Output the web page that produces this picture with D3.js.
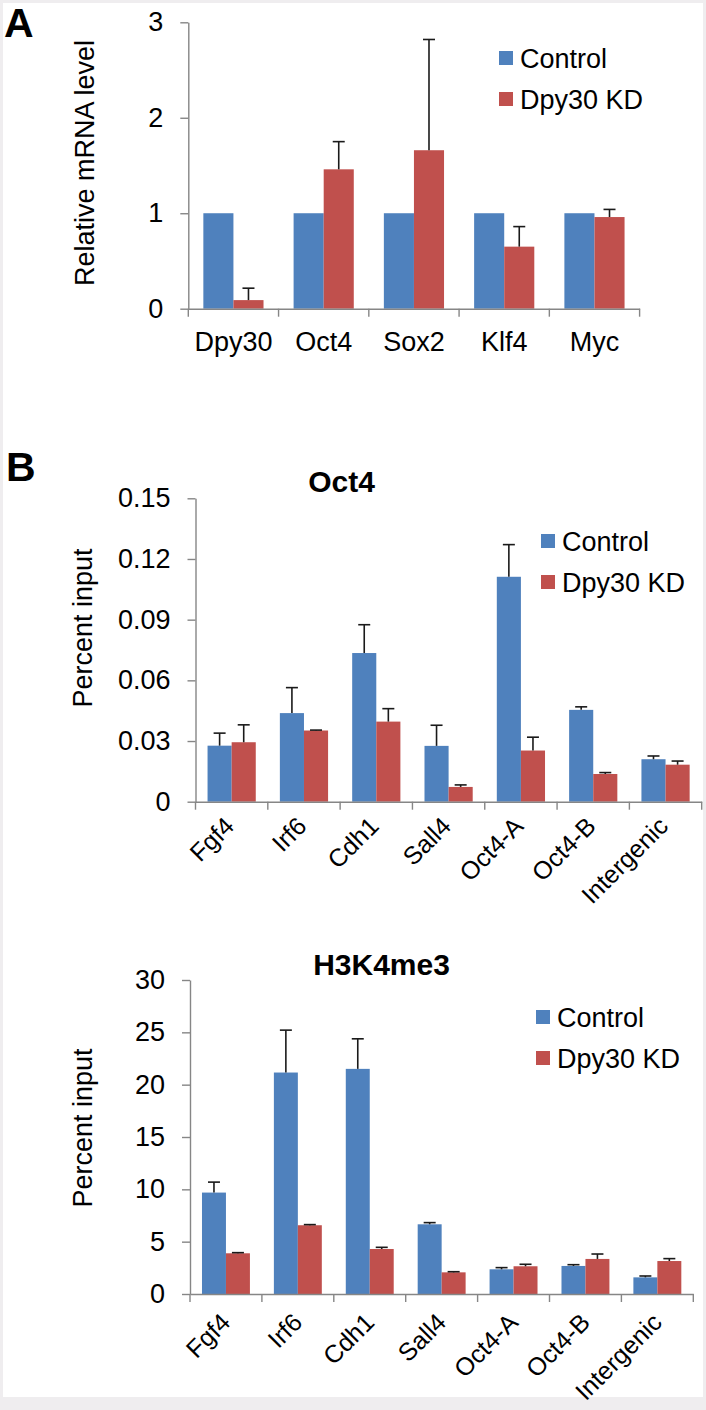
<!DOCTYPE html>
<html><head><meta charset="utf-8">
<script src="https://cdn.jsdelivr.net/npm/d3@7"></script>
<style>
body{margin:0;background:#fff;}
svg{display:block;}
text{font-family:"Liberation Sans",Arial,Helvetica,sans-serif;}
</style>
</head><body>
<svg id="chart" width="706" height="1410"></svg>
<script>
// ---------- data ----------
const seriesNames = ["Control", "Dpy30 KD"];
const seriesColors = ["#4F81BD", "#C0504D"];

// Panel A: relative mRNA level
const aCategories = ["Dpy30", "Oct4", "Sox2", "Klf4", "Myc"];
const aControl = [1, 1, 1, 1, 1];
const aControlErr = [0, 0, 0, 0, 0];
const aKD = [0.09, 1.46, 1.66, 0.65, 0.96];
const aKDErr = [0.125, 0.29, 1.16, 0.21, 0.08];
const aTicks = [0, 1, 2, 3];
const aTickLabels = ["0", "1", "2", "3"];

// Panel B: Oct4 ChIP
const bCategories = ["Fgf4", "Irf6", "Cdh1", "Sall4", "Oct4-A", "Oct4-B", "Intergenic"];
const bControl = [0.0277, 0.0438, 0.0735, 0.0276, 0.1112, 0.0454, 0.0210];
const bControlErr = [0.0062, 0.0126, 0.0140, 0.0102, 0.0159, 0.0015, 0.0016];
const bKD = [0.0294, 0.0352, 0.0396, 0.0073, 0.0253, 0.0137, 0.0183];
const bKDErr = [0.0086, 0.0002, 0.0064, 0.0010, 0.0066, 0.0007, 0.0018];
const bTicks = [0, 0.03, 0.06, 0.09, 0.12, 0.15];
const bTickLabels = ["0", "0.03", "0.06", "0.09", "0.12", "0.15"];

// Panel C: H3K4me3 ChIP
const cCategories = ["Fgf4", "Irf6", "Cdh1", "Sall4", "Oct4-A", "Oct4-B", "Intergenic"];
const cControl = [9.69, 21.16, 21.51, 6.66, 2.36, 2.68, 1.59];
const cControlErr = [1.0, 4.05, 2.87, 0.16, 0.16, 0.12, 0.13];
const cKD = [3.89, 6.57, 4.30, 2.07, 2.65, 3.35, 3.15];
const cKDErr = [0.06, 0.06, 0.16, 0.06, 0.19, 0.47, 0.23];
const cTicks = [0, 5, 10, 15, 20, 25, 30];
const cTickLabels = ["0", "5", "10", "15", "20", "25", "30"];

// ---------- drawing ----------
const svg = d3.select("#chart");
// light frame
svg.append("rect").attr("x", 0).attr("y", 0).attr("width", 706).attr("height", 1410).attr("fill", "#efedef");
svg.append("rect").attr("x", 3).attr("y", 3).attr("width", 700).attr("height", 1394).attr("fill", "#ffffff");

const AXIS_COLOR = "#868686";
const FS = 27;

function drawPanel(o) {
  const g = svg.append("g");
  const x = d3.scaleBand().domain(o.cats).range([o.left, o.right]).paddingInner(0).paddingOuter(0);
  const xs = d3.scaleBand().domain(seriesNames).range([0, x.bandwidth()]).paddingInner(0).paddingOuter(0.5);
  const y = d3.scaleLinear().domain([0, o.yMax]).range([o.bottom, o.top]);

  const series = [
    {name: seriesNames[0], vals: o.ctrl, errs: o.ctrlErr, color: seriesColors[0]},
    {name: seriesNames[1], vals: o.kd, errs: o.kdErr, color: seriesColors[1]}
  ];

  // bars
  series.forEach(s => {
    g.append("g").selectAll("rect").data(o.cats).join("rect")
      .attr("x", (c) => x(c) + xs(s.name))
      .attr("y", (c, i) => y(s.vals[i]))
      .attr("width", xs.bandwidth())
      .attr("height", (c, i) => y(0) - y(s.vals[i]))
      .attr("fill", s.color);
  });

  // error bars (upper only)
  series.forEach(s => {
    const eg = g.append("g").attr("stroke", "#1a1a1a").attr("stroke-width", 1.6);
    o.cats.forEach((c, i) => {
      const e = s.errs[i];
      if (!e) return;
      const cx = x(c) + xs(s.name) + xs.bandwidth() / 2;
      eg.append("line").attr("x1", cx).attr("x2", cx).attr("y1", y(s.vals[i])).attr("y2", y(s.vals[i] + e));
      eg.append("line").attr("x1", cx - 6).attr("x2", cx + 6).attr("y1", y(s.vals[i] + e)).attr("y2", y(s.vals[i] + e));
    });
  });

  // y axis
  const ya = g.append("g").attr("transform", `translate(${o.left},0)`)
    .call(d3.axisLeft(y).tickValues(o.ticks).tickFormat((d, i) => o.tickLabels[i]).tickSize(8).tickSizeOuter(0).tickPadding(17));
  ya.selectAll("path,line").attr("stroke", AXIS_COLOR).attr("stroke-width", 1.4);
  ya.selectAll("text").attr("font-size", FS).attr("fill", "#000").attr("font-family", "Liberation Sans, Arial, sans-serif");

  // x axis
  const xa = g.append("g").attr("transform", `translate(0,${o.bottom})`)
    .call(d3.axisBottom(x).tickSize(0).tickSizeOuter(0).tickFormat(""));
  xa.selectAll(".tick").remove();
  xa.selectAll("path").attr("stroke", AXIS_COLOR).attr("stroke-width", 1.4);
  const bounds = o.cats.map(c => x(c)).concat([x(o.cats[o.cats.length - 1]) + x.bandwidth()]);
  xa.selectAll("line.bt").data(bounds).join("line").attr("class", "bt")
    .attr("x1", d => d).attr("x2", d => d).attr("y1", 0).attr("y2", 8)
    .attr("stroke", AXIS_COLOR).attr("stroke-width", 1.4);

  // category labels
  if (o.rotate) {
    g.append("g").selectAll("text").data(o.cats).join("text")
      .attr("transform", c => `translate(${x(c) + x.bandwidth() / 2 + o.labDx},${o.bottom + o.labDy}) rotate(-45)`)
      .attr("text-anchor", "end")
      .attr("font-size", 25)
      .text(c => c);
  } else {
    g.append("g").selectAll("text").data(o.cats).join("text")
      .attr("x", c => x(c) + x.bandwidth() / 2)
      .attr("y", o.bottom + 42)
      .attr("text-anchor", "middle")
      .attr("font-size", FS)
      .text(c => c);
  }

  // y title
  g.append("text")
    .attr("transform", `translate(${o.yTitleX},${o.yTitleY}) rotate(-90)`)
    .attr("text-anchor", "middle").attr("font-size", FS).text(o.yTitle);

  // chart title
  if (o.title) {
    g.append("text").attr("x", o.titleX).attr("y", o.titleY).attr("text-anchor", "middle")
      .attr("font-size", 30).attr("font-weight", "bold").text(o.title);
  }

  // legend
  const lg = g.append("g");
  series.forEach((s, i) => {
    lg.append("rect").attr("x", o.legX).attr("y", o.legY + i * 41).attr("width", 14).attr("height", 14).attr("fill", s.color);
    lg.append("text").attr("x", o.legX + 21).attr("y", o.legY + i * 41 + 17).attr("font-size", FS).text(s.name);
  });

  // panel letter
  if (o.letter) {
    g.append("text").attr("x", o.letterX).attr("y", o.letterY)
      .attr("font-size", 41).attr("font-weight", "bold").text(o.letter);
  }
}

drawPanel({
  cats: aCategories, ctrl: aControl, ctrlErr: aControlErr, kd: aKD, kdErr: aKDErr,
  ticks: aTicks, tickLabels: aTickLabels, yMax: 3,
  left: 188.3, right: 639.6, bottom: 308.7, top: 22.3,
  rotate: false, yTitle: "Relative mRNA level", yTitleX: 94, yTitleY: 163,
  legX: 499, legY: 51, letter: "A", letterX: 4, letterY: 37
});

drawPanel({
  cats: bCategories, ctrl: bControl, ctrlErr: bControlErr, kd: bKD, kdErr: bKDErr,
  ticks: bTicks, tickLabels: bTickLabels, yMax: 0.15,
  left: 195.5, right: 701.7, bottom: 801.7, top: 498.3,
  rotate: true, labDx: 4, labDy: 26,
  yTitle: "Percent input", yTitleX: 92, yTitleY: 628,
  title: "Oct4", titleX: 341.5, titleY: 492,
  legX: 541, legY: 534, letter: "B", letterX: 6, letterY: 481
});

drawPanel({
  cats: cCategories, ctrl: cControl, ctrlErr: cControlErr, kd: cKD, kdErr: cKDErr,
  ticks: cTicks, tickLabels: cTickLabels, yMax: 30,
  left: 190, right: 693.3, bottom: 1294, top: 980,
  rotate: true, labDx: 6, labDy: 30,
  yTitle: "Percent input", yTitleX: 92, yTitleY: 1128,
  title: "H3K4me3", titleX: 381.5, titleY: 975,
  legX: 536, legY: 1010
});
</script>
</body></html>
